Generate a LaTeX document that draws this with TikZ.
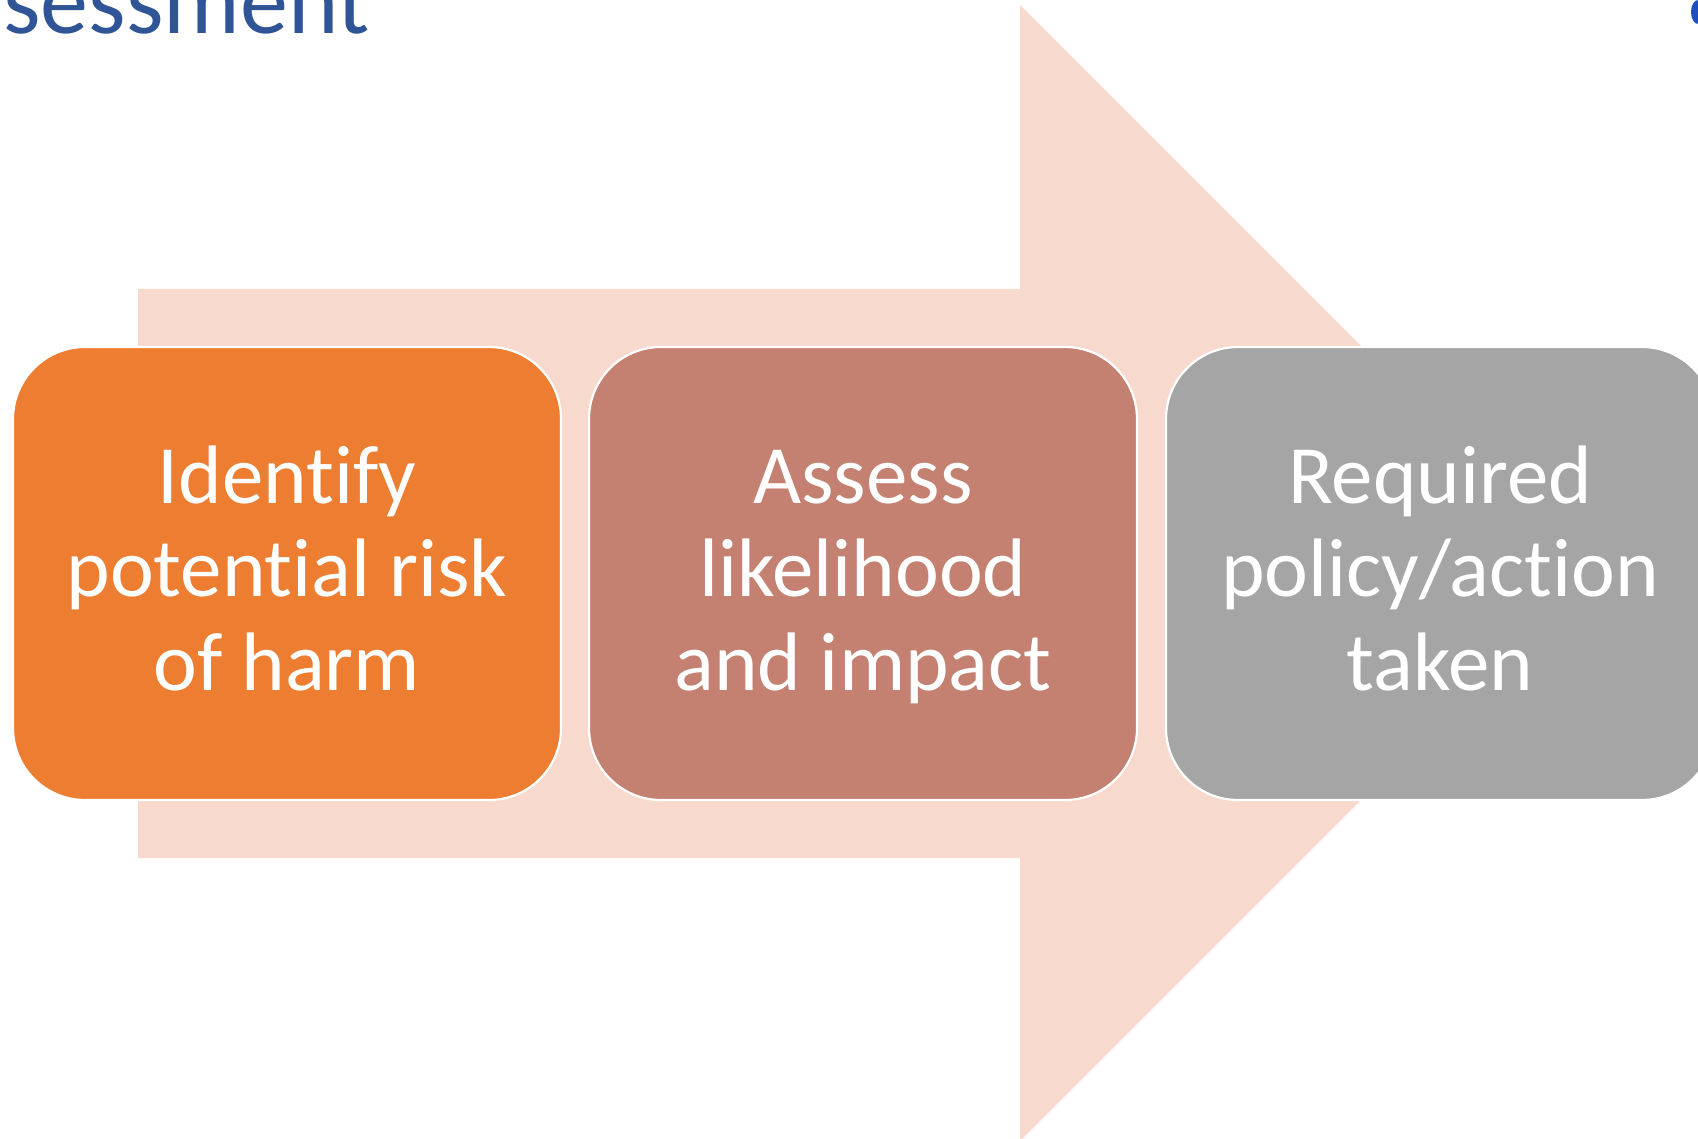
\documentclass[tikz,border=0pt]{standalone}
\usepackage{fontspec}
\setmainfont[Ligatures=NoCommon]{Carlito}
\definecolor{arrowfill}{HTML}{F7D9CE}
\definecolor{boxorange}{HTML}{ED7D31}
\definecolor{boxbrown}{HTML}{C48070}
\definecolor{boxgray}{HTML}{A5A5A5}
\definecolor{titleblue}{HTML}{2F5597}
\definecolor{logoblue}{HTML}{1F4FBF}
\tikzset{
  stepbox/.style={rectangle, rounded corners=36pt, draw=white, line width=1.1pt,
    minimum width=274pt, minimum height=226.5pt, inner sep=0pt},
  linetxt/.style={anchor=base, inner sep=0pt, text=white,
    font=\fontsize{41.5}{46.5}\selectfont},
}
\begin{document}
\begin{tikzpicture}[x=0.5pt,y=-0.5pt]
\useasboundingbox (0,0) rectangle (1698,1139);
\clip (0,0) rectangle (1698,1139);
% big background arrow
\fill[arrowfill] (138,289) -- (1020,289) -- (1020,5) -- (1588,573) -- (1020,1141)
  -- (1020,858) -- (138,858) -- cycle;
% title fragment
\node[anchor=base west, inner sep=0pt, text=titleblue,
  font=\fontsize{48}{56}\selectfont] (title) at (3,34) {sessment};
% logo fragment top right
\fill[logoblue] (1698,12) ellipse [x radius=7, y radius=12];
% boxes
\node[stepbox, fill=boxorange] (b1) at (287,573.5) {};
\node[stepbox, fill=boxbrown] (b2) at (863,573.5) {};
\node[stepbox, fill=boxgray] (b3) at (1440,573.5) {};
% texts
\node[linetxt] (t1a) at (287,503.6) {Identify};
\node[linetxt] (t1b) at (287,596.7) {potential risk};
\node[linetxt] (t1c) at (287,690) {of harm};
\node[linetxt] (t2a) at (863,503.6) {Assess};
\node[linetxt] (t2b) at (863,596.7) {likelihood};
\node[linetxt] (t2c) at (863,690) {and impact};
\node[linetxt] (t3a) at (1440,503.6) {Required};
\node[linetxt] (t3b) at (1440,596.7) {policy/action};
\node[linetxt] (t3c) at (1440,690) {taken};
\end{tikzpicture}
\end{document}
